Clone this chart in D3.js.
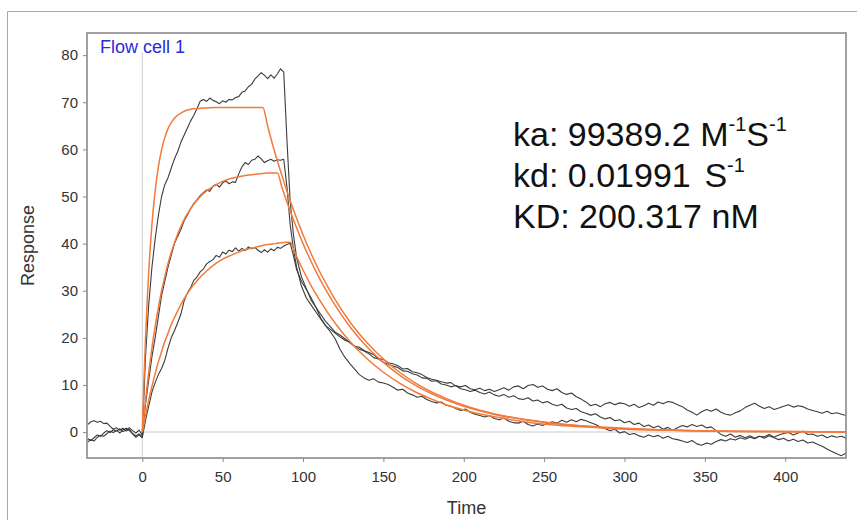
<!DOCTYPE html>
<html>
<head>
<meta charset="utf-8">
<script src="https://cdn.jsdelivr.net/npm/d3@7"></script>
<style>
  body { margin: 0; background: #fff; }
  text { font-family: Arial, "Liberation Sans", sans-serif; }
</style>
</head>
<body>
<div id="chart"></div>
<script>
// sampling times of the recorded curves (s)
const time = [
  -34, -32, -30, -28, -26, -24, -22, -20, -18, -16,
  -14, -12, -10, -8, -6, -4, -2,
  0, 2, 4, 6, 8, 10, 12, 14, 16, 18,
  20, 22, 24, 26, 28, 30, 32, 34, 36, 38,
  40, 42, 44, 46, 48, 50, 52, 54, 56, 58,
  60, 62, 64, 66, 68, 70, 72, 74, 76, 78,
  80, 82, 84, 86, 88, 90, 92, 94,
  96, 99, 102, 105, 108, 111, 114, 117, 120, 123,
  126, 129, 132, 135, 138, 141, 144, 147, 150, 153,
  156, 159, 162, 165, 168, 171, 174, 177, 180, 183,
  186, 189, 192, 195, 198, 201, 204, 207, 210, 213,
  216, 219, 222, 225, 228, 231, 234, 237, 240, 243,
  246, 249, 252, 255, 258, 261, 264, 267, 270, 273,
  276, 279, 282, 285, 288, 291, 294, 297, 300, 303,
  306, 309, 312, 315, 318, 321, 324, 327, 330, 333,
  336, 339, 342, 345, 348, 351, 354, 357, 360, 363,
  366, 369, 372, 375, 378, 381, 384, 387, 390, 393,
  396, 399, 402, 405, 408, 411, 414, 417, 420, 423,
  426, 429, 432, 435, 438
];

// measured response, highest concentration
const respA = [
  1.6, 2.2, 2.4, 2.1, 2.3, 1.8, 1.9, 1.2, 0.6, 0.9,
  0.4, 0.8, 0.2, 0.6, -0.3, -0.8, -0.4,
  -1.0, 16, 27, 35, 41, 46, 50, 52.5, 54, 56,
  58, 59.5, 61.5, 63, 64.5, 66, 67.2, 68.6, 70.2, 70.6,
  70.2, 70.9, 70.4, 70.1, 69.7, 70.3, 70.0, 70.6, 70.5, 71.0,
  71.2, 72.1, 72.4, 73.3, 73.8, 74.9, 75.6, 76.3, 75.7, 75.0,
  75.8, 75.1, 76.0, 77.1, 76.4, 62, 49, 42,
  37, 33, 30.5, 28, 26.5, 25, 23.5, 22.4, 21.2, 20.6,
  19.8, 19.0, 18.3, 17.6, 17.2, 16.6, 15.8, 15.5, 14.8, 14.4,
  14.0, 13.7, 13.0, 12.9, 12.4, 12.1, 11.5, 11.4, 10.8, 10.9,
  10.2, 10.0, 9.6, 9.9, 9.2, 9.0, 8.6, 8.9, 8.4, 8.1,
  8.5, 7.9, 7.6, 8.0, 7.4, 7.7, 7.1, 6.9, 7.3, 6.6,
  6.8, 6.2, 6.5, 5.9, 5.6, 5.9, 5.1, 4.8, 5.0, 4.3,
  4.0, 3.6, 3.9, 3.2, 2.8, 3.1, 2.4, 2.6, 2.0, 2.3,
  1.6, 1.9, 1.2, 1.5, 0.9, 1.3, 0.6, 1.0, 0.4, 0.9,
  1.4, 1.1, 1.6, 1.2, 1.5, 0.9, 1.1, 0.3, -0.5, -0.9,
  -0.4, -1.1, -0.7, -1.2, -0.8, -1.3, -0.9, -1.0, -0.5, -1.1,
  -0.6, -0.3, -0.1, -0.6, -0.2, 0.2, -0.5, -0.4, -0.9, -0.6,
  -1.2, -0.8, -1.1, -0.9, -1.3
];

// measured response, middle concentration
const respB = [
  -1.4, -1.8, -1.2, -0.6, -0.9, -0.2, 0.3, -0.1, 0.5, 0.2,
  0.7, 0.1, 0.5, 0.9, 0.3, -0.2, 0.4,
  -0.6, 6, 11, 16, 20, 24.5, 29, 32, 35, 37.5,
  40, 41.5, 43, 44.8, 46, 47.4, 48.5, 49.3, 50.2, 50.8,
  51.4, 51.1, 52.2, 52.6, 52.0, 52.9, 53.3, 52.7, 53.1, 53.0,
  54.8, 56.3, 57.2, 56.8, 57.7, 57.9, 58.6, 58.0, 57.2, 57.6,
  57.9, 57.5, 57.8, 57.7, 57.9, 52, 44, 39,
  35, 31, 28.5, 27, 25.5, 24, 22.6, 21.8, 21, 20.2,
  19.5, 19.1, 18.2, 18.0, 17.3, 16.9, 16.4, 15.6, 15.4, 14.7,
  14.5, 14.1, 13.4, 13.5, 12.8, 12.6, 12.2, 11.6, 11.2, 11.0,
  10.7, 10.4, 10.5, 9.8, 9.6, 9.9, 9.2, 9.0, 9.3, 8.8,
  9.1, 8.6, 9.0, 9.4, 8.9, 9.6, 9.8, 9.2, 9.9, 10.1,
  9.5, 9.8, 9.1, 8.8, 9.2, 8.4, 8.0, 8.3, 7.5, 7.0,
  6.4, 5.6, 5.9, 5.4, 6.0, 6.3, 5.8, 6.2, 6.0, 5.5,
  5.9, 5.2, 5.6, 6.1, 5.7, 6.4, 6.0, 6.5, 6.3, 5.8,
  5.4, 4.7, 4.2, 3.6, 4.3, 4.8, 4.4, 4.9, 4.2, 3.8,
  3.6, 4.1, 4.5, 5.2, 5.7, 6.1, 5.5, 5.0, 5.4, 4.8,
  5.1, 5.5, 5.8, 5.3, 5.6, 5.4, 4.9, 4.6, 4.3, 4.0,
  4.4, 3.9, 4.1, 3.8, 3.5
];

// measured response, lowest concentration
const respC = [
  -2.1, -1.6, -1.9, -1.1, -0.7, -0.9, -0.3, 0.2, -0.1, 0.4,
  -0.2, 0.5, 0.8, 0.3, -0.4, -1.1, -0.6,
  -1.2, 2.5, 5.5, 8.5, 10.5, 12.2, 13.5, 15.2, 17.8, 20,
  21.5, 23.2, 25, 27.8, 29.5, 30.6, 32.2, 32.9, 34.0, 34.6,
  35.7, 36.2, 36.6, 37.5, 37.1, 38.2, 37.8, 38.6, 38.3, 39.1,
  38.4, 39.0, 38.5, 39.3, 38.9, 39.2, 38.6, 38.1, 38.7, 38.2,
  38.9, 38.5, 39.2, 39.0, 39.5, 39.8, 40.1, 37.5,
  34.5, 32, 30.3, 28.5, 26.5, 24.2, 22.6, 21.3, 19.8, 17.6,
  15.9, 14.6, 13.4, 12.2, 11.5, 11.0, 11.3, 10.6, 10.4, 10.1,
  9.5, 8.9, 9.1, 8.3, 7.9, 7.4, 7.6, 6.9, 6.5, 6.2,
  6.4, 5.7, 5.5, 5.0, 4.6, 4.9, 4.2, 3.8, 3.5, 3.2,
  3.5, 2.9, 2.6, 3.0, 2.3, 2.0, 1.9, 2.3, 1.6, 1.3,
  1.7, 1.4, 1.8, 2.2, 1.9, 2.5, 2.1, 2.6, 2.2, 2.7,
  2.4, 2.0, 1.6, 1.1, 0.7, 0.3, 0.6, -0.2, 0.1, -0.5,
  -0.3, -0.8, -1.1, -0.6, -1.0, -0.7, -1.3, -0.9, -1.4, -1.6,
  -1.9, -2.2, -1.8, -2.5, -2.8, -2.3, -2.6, -2.0, -1.6, -1.9,
  -1.4, -1.7, -1.2, -1.5, -1.1, -1.4, -0.9, -1.3, -0.8, -1.2,
  -1.6, -1.3, -1.9, -1.5, -2.0, -1.7, -2.3, -2.1, -2.6, -3.0,
  -3.6, -4.1, -4.6, -5.0, -4.4
];

// times of the fitted curves (s)
const fitTime = [
  0, 1, 2, 3, 4, 5, 6, 8, 10, 12,
  14, 16, 18, 20, 25, 30, 35, 40, 45, 50,
  55, 60, 65, 70, 75, 78, 81, 84, 87, 90,
  92, 95, 100, 105, 110, 115, 120, 130, 140, 150,
  160, 170, 180, 190, 200, 220, 240, 260, 280, 300,
  330, 360, 390, 420, 438
];

const fitA = [
  0, 10.8, 19.8, 27.5, 34.0, 39.5, 44.1, 51.2, 56.3, 59.9,
  62.5, 64.4, 65.7, 66.6, 67.9, 68.5, 68.7, 68.8, 68.9, 68.9,
  68.9, 68.9, 68.9, 68.9, 68.9, 64.9, 61.1, 57.6, 54.3, 51.1,
  49.1, 46.3, 41.9, 37.9, 34.3, 31.1, 28.1, 23.0, 18.9, 15.5,
  12.7, 10.4, 8.5, 7.0, 5.7, 3.8, 2.6, 1.7, 1.2, 0.8,
  0.4, 0.2, 0.1, 0.05, 0.03
];

const fitB = [
  0, 3.5, 6.7, 9.8, 12.7, 15.3, 17.9, 22.4, 26.4, 30.0,
  33.0, 35.8, 38.1, 40.2, 44.4, 47.4, 49.6, 51.2, 52.3, 53.2,
  53.8, 54.2, 54.5, 54.7, 54.9, 55.0, 55.0, 55.0, 51.8, 48.8,
  46.9, 44.2, 40.0, 36.2, 32.8, 29.7, 26.9, 22.0, 18.0, 14.8,
  12.1, 9.9, 8.1, 6.7, 5.5, 3.7, 2.5, 1.7, 1.1, 0.7,
  0.4, 0.2, 0.1, 0.06, 0.03
];

const fitC = [
  0, 1.8, 3.5, 5.2, 6.8, 8.3, 9.7, 12.4, 14.9, 17.1,
  19.2, 21.0, 22.8, 24.3, 27.7, 30.4, 32.5, 34.2, 35.6, 36.7,
  37.5, 38.2, 38.8, 39.2, 39.6, 39.8, 39.9, 40.1, 40.2, 40.3,
  40.3, 38.0, 34.4, 31.1, 28.2, 25.5, 23.1, 18.9, 15.5, 12.7,
  10.4, 8.5, 7.0, 5.7, 4.7, 3.2, 2.1, 1.4, 1.0, 0.6,
  0.4, 0.2, 0.1, 0.05, 0.03
];

const xTicks = [0, 50, 100, 150, 200, 250, 300, 350, 400];
const yTicks = [0, 10, 20, 30, 40, 50, 60, 70, 80];

// set svg and plot box

const svgWidth = 857;
const svgHeight = 520;

let plot = { left: 87, right: 846, top: 33, bottom: 458 };

let svg = d3.select("#chart")
  .append("svg")
  .attr("width", svgWidth)
  .attr("height", svgHeight);

// outer frame of the window
svg.append("path")
  .attr("d", `M7.5,${svgHeight} V11.5 H${svgWidth}`)
  .attr("fill", "none")
  .attr("stroke", "#a8a8a8")
  .attr("stroke-width", 1);

let x = d3.scaleLinear()
  .domain([-34.4, 437.8])
  .range([plot.left, plot.right]);

let y = d3.scaleLinear()
  .domain([-5.5, 84.7])
  .range([plot.bottom, plot.top]);

svg.append("clipPath")
  .attr("id", "plotclip")
  .append("rect")
  .attr("x", plot.left)
  .attr("y", plot.top)
  .attr("width", plot.right - plot.left)
  .attr("height", plot.bottom - plot.top);

// reference lines at t = 0 and response = 0
svg.append("line")
  .attr("x1", x(0)).attr("x2", x(0))
  .attr("y1", y(80.5)).attr("y2", y(-5.5))
  .attr("stroke", "#cfcfcf")
  .attr("stroke-width", 1);

svg.append("line")
  .attr("x1", x(0)).attr("x2", plot.right)
  .attr("y1", y(0)).attr("y2", y(0))
  .attr("stroke", "#dcdcdc")
  .attr("stroke-width", 1.5);

// curves
let lineGroup = svg.append("g").attr("clip-path", "url(#plotclip)");

let rawLine = d3.line()
  .x(d => x(d[0]))
  .y(d => y(d[1]));

let fitLine = d3.line()
  .x(d => x(d[0]))
  .y(d => y(d[1]))
  .curve(d3.curveMonotoneX);

[respC, respB, respA].forEach(function(series) {
  lineGroup.append("path")
    .datum(d3.zip(time, series))
    .attr("d", rawLine)
    .attr("fill", "none")
    .attr("stroke", "#3c3c3c")
    .attr("stroke-width", 1.1)
    .attr("stroke-linejoin", "round");
});

[fitC, fitB, fitA].forEach(function(series) {
  lineGroup.append("path")
    .datum(d3.zip(fitTime, series))
    .attr("d", fitLine)
    .attr("fill", "none")
    .attr("stroke", "#f27a3a")
    .attr("stroke-width", 1.5);
});

// axes

let xAxis = d3.axisBottom(x).tickValues(xTicks).tickSize(4).tickPadding(9);
let yAxis = d3.axisLeft(y).tickValues(yTicks).tickSize(4).tickPadding(5);

let gx = svg.append("g")
  .attr("transform", `translate(0, ${plot.bottom})`)
  .call(xAxis);

let gy = svg.append("g")
  .attr("transform", `translate(${plot.left}, 0)`)
  .call(yAxis);

[gx, gy].forEach(function(g) {
  g.select(".domain").remove();
  g.selectAll(".tick line").attr("stroke", "#8a8a8a");
  g.selectAll(".tick text")
    .attr("fill", "#333")
    .style("font-size", "15px")
    .style("font-family", "Arial, 'Liberation Sans', sans-serif");
});

// plot border
svg.append("rect")
  .attr("x", plot.left)
  .attr("y", plot.top)
  .attr("width", plot.right - plot.left)
  .attr("height", plot.bottom - plot.top)
  .attr("fill", "none")
  .attr("stroke", "#8a8a8a")
  .attr("stroke-width", 1.6);

// labels

svg.append("text")
  .attr("x", 100)
  .attr("y", 52.5)
  .attr("fill", "#2a2ad8")
  .style("font-size", "18px")
  .text("Flow cell 1");

svg.append("text")
  .attr("transform", `translate(33.5, ${(plot.top + plot.bottom) / 2}) rotate(-90)`)
  .attr("text-anchor", "middle")
  .attr("fill", "#333")
  .style("font-size", "18px")
  .text("Response");

svg.append("text")
  .attr("x", (plot.left + plot.right) / 2)
  .attr("y", 514)
  .attr("text-anchor", "middle")
  .attr("fill", "#333")
  .style("font-size", "18px")
  .text("Time");

// kinetic constants

function addKinetic(yPos, parts) {
  let t = svg.append("text")
    .attr("x", 513)
    .attr("y", yPos)
    .attr("fill", "#111")
    .style("font-size", "34px");
  parts.forEach(function(p) {
    let s = t.append("tspan").text(p.text);
    if (p.dx) s.attr("dx", p.dx);
    if (p.sup) s.attr("dy", -15).style("font-size", "20px");
    if (p.down) s.attr("dy", 15);
  });
}

addKinetic(146, [
  { text: "ka: 99389.2" },
  { text: "M", dx: 9.5 },
  { text: "-1", sup: true },
  { text: "S", down: true },
  { text: "-1", sup: true }
]);

addKinetic(187, [
  { text: "kd: 0.01991" },
  { text: "S", dx: 13.7 },
  { text: "-1", sup: true }
]);

addKinetic(228, [
  { text: "KD: 200.317 nM" }
]);
</script>
</body>
</html>
